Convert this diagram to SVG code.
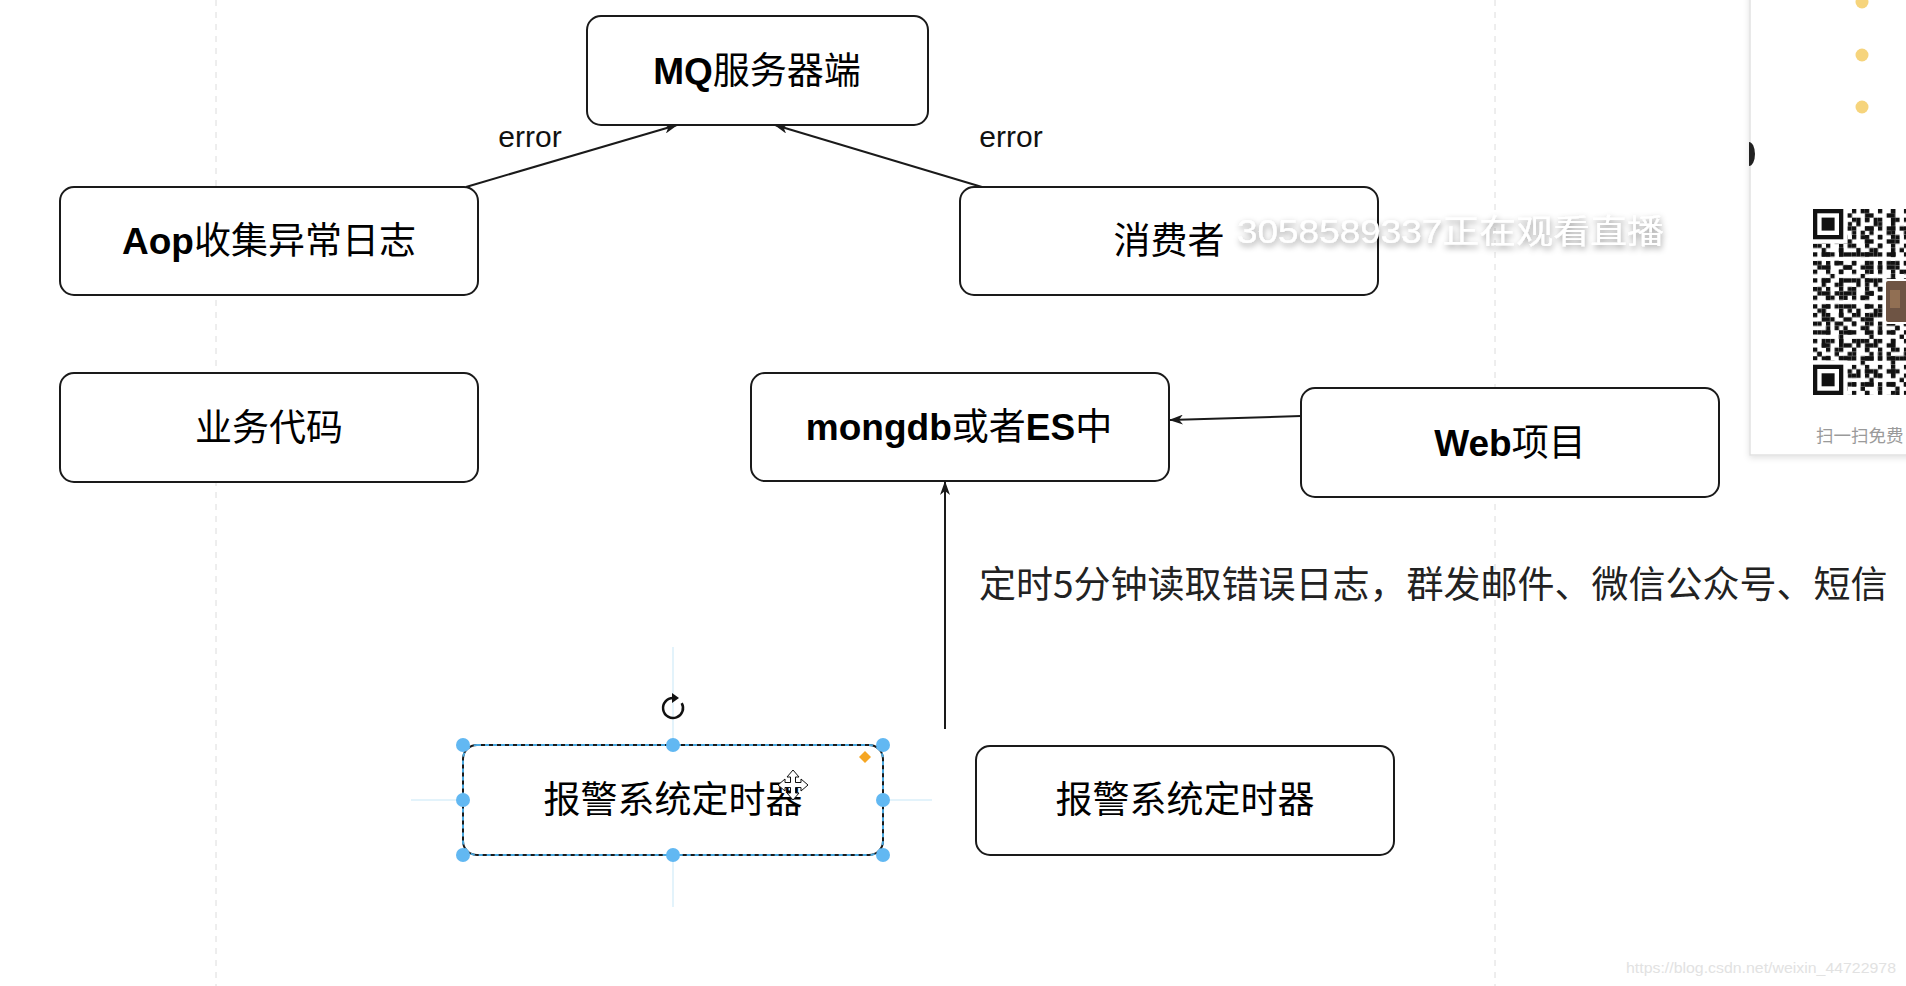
<svg xmlns="http://www.w3.org/2000/svg" width="1906" height="986" viewBox="0 0 1906 986">
  <style>
    .box { fill: #ffffff; stroke: #1a1a1a; stroke-width: 2; }
    .lbl { font-family: "Noto Sans CJK SC", sans-serif; font-size: 37px; fill: #000; text-anchor: middle; }
    .lat { font-family: "Liberation Sans", Arial, sans-serif; font-weight: bold; }
    .edge { fill: none; stroke: #1a1a1a; stroke-width: 2; }
    .elbl { font-family: "Liberation Sans", Arial, sans-serif; font-size: 30px; fill: #111; text-anchor: middle; }
    .grid { stroke: #dcdcdc; stroke-width: 1; stroke-dasharray: 6 6; }
    .handle { fill: #62b8f2; }
    .guide { stroke: #e3f3fb; stroke-width: 2; }
    .qr { fill: #111; }
  </style>
  <defs>
    <marker id="arr" viewBox="0 0 14 10" refX="13" refY="5" markerWidth="14" markerHeight="10" markerUnits="userSpaceOnUse" orient="auto">
      <path d="M0,0 L14,5 L0,10 L4,5 Z" fill="#1a1a1a"/>
    </marker>
    <filter id="halo" x="-10%" y="-40%" width="120%" height="180%">
      <feGaussianBlur in="SourceAlpha" stdDeviation="3" result="b"/>
      <feOffset dx="1" dy="3" in="b" result="o"/>
      <feFlood flood-color="#000" flood-opacity="0.4"/>
      <feComposite in2="o" operator="in" result="s"/>
      <feMerge><feMergeNode in="s"/><feMergeNode in="SourceGraphic"/></feMerge>
    </filter>
    <filter id="pshadow" x="-20%" y="-5%" width="140%" height="110%">
      <feDropShadow dx="0" dy="2" stdDeviation="3" flood-color="#000" flood-opacity="0.12"/>
    </filter>
    <pattern id="qa" patternUnits="userSpaceOnUse" x="1813" y="209" width="12.99" height="8.66">
      <rect x="0" y="0" width="4.33" height="4.33" class="qr"/>
    </pattern>
    <pattern id="qb" patternUnits="userSpaceOnUse" x="1813" y="209" width="21.65" height="12.99">
      <rect x="8.66" y="4.33" width="8.66" height="4.33" class="qr"/>
    </pattern>
    <pattern id="qc" patternUnits="userSpaceOnUse" x="1813" y="209" width="30.31" height="21.65">
      <rect x="4.33" y="12.99" width="4.33" height="4.33" class="qr"/>
      <rect x="17.32" y="0" width="4.33" height="4.33" class="qr"/>
      <rect x="21.65" y="8.66" width="4.33" height="4.33" class="qr"/>
      <rect x="25.98" y="17.32" width="4.33" height="4.33" class="qr"/>
    </pattern>
    <pattern id="qd" patternUnits="userSpaceOnUse" x="1813" y="209" width="17.32" height="30.31">
      <rect x="4.33" y="21.65" width="4.33" height="4.33" class="qr"/>
      <rect x="8.66" y="8.66" width="4.33" height="8.66" class="qr"/>
      <rect x="12.99" y="25.98" width="4.33" height="4.33" class="qr"/>
    </pattern>
  </defs>

  <rect x="0" y="0" width="1906" height="986" fill="#ffffff"/>

  <!-- background grid guides -->
  <g id="grid">
    <line class="grid" x1="216" y1="0" x2="216" y2="986"/>
    <line class="grid" x1="1495" y1="0" x2="1495" y2="986"/>
  </g>

  <!-- connectors -->
  <g id="connectors">
    <line class="edge" x1="466" y1="187" x2="677" y2="125" marker-end="url(#arr)"/>
    <line class="edge" x1="982" y1="187" x2="775" y2="125" marker-end="url(#arr)"/>
    <line class="edge" x1="1301" y1="416" x2="1170" y2="420" marker-end="url(#arr)"/>
    <line class="edge" x1="945" y1="729" x2="945" y2="482" marker-end="url(#arr)"/>
    <text class="elbl" x="530" y="147">error</text>
    <text class="elbl" x="1011" y="147">error</text>
    <text x="979" y="598" font-family="'Noto Sans CJK SC', sans-serif" font-size="37" fill="#222">定时5分钟读取错误日志，群发邮件、微信公众号、短信</text>
  </g>

  <g id="node-mq">
    <rect class="box" x="587" y="16" width="341" height="109" rx="14"/>
    <text class="lbl" x="757" y="84"><tspan class="lat">MQ</tspan>服务器端</text>
  </g>

  <g id="node-aop">
    <rect class="box" x="60" y="187" width="418" height="108" rx="14"/>
    <text class="lbl" x="269" y="254"><tspan class="lat">Aop</tspan>收集异常日志</text>
  </g>

  <g id="node-consumer">
    <rect class="box" x="960" y="187" width="418" height="108" rx="14"/>
    <text class="lbl" x="1169" y="254">消费者</text>
  </g>

  <g id="node-business">
    <rect class="box" x="60" y="373" width="418" height="109" rx="14"/>
    <text class="lbl" x="269" y="441">业务代码</text>
  </g>

  <g id="node-store">
    <rect class="box" x="751" y="373" width="418" height="108" rx="14"/>
    <text class="lbl" x="959" y="440"><tspan class="lat">mongdb</tspan>或者<tspan class="lat">ES</tspan>中</text>
  </g>

  <g id="node-web">
    <rect class="box" x="1301" y="388" width="418" height="109" rx="14"/>
    <text class="lbl" x="1510" y="456"><tspan class="lat">Web</tspan>项目</text>
  </g>

  <g id="node-timer-selected">
    <line class="guide" x1="673" y1="647" x2="673" y2="745"/>
    <line class="guide" x1="673" y1="855" x2="673" y2="907"/>
    <line class="guide" x1="411" y1="800" x2="463" y2="800"/>
    <line class="guide" x1="883" y1="800" x2="932" y2="800"/>
    <rect class="box" x="463" y="745" width="420" height="110" rx="14" stroke-width="1.5"/>
    <rect x="463" y="745" width="420" height="110" rx="14" fill="none" stroke="#4aa8e0" stroke-width="2" stroke-dasharray="4 4"/>
    <text class="lbl" x="673" y="813">报警系统定时器</text>
    <circle class="handle" cx="463" cy="745" r="7"/>
    <circle class="handle" cx="673" cy="745" r="7"/>
    <circle class="handle" cx="883" cy="745" r="7"/>
    <circle class="handle" cx="463" cy="800" r="7"/>
    <circle class="handle" cx="883" cy="800" r="7"/>
    <circle class="handle" cx="463" cy="855" r="7"/>
    <circle class="handle" cx="673" cy="855" r="7"/>
    <circle class="handle" cx="883" cy="855" r="7"/>
    <path d="M681.7,703 A10,10 0 1 1 673,698" fill="none" stroke="#111" stroke-width="2.5"/>
    <path d="M672,693 L679,698 L672,703 Z" fill="#111"/>
    <path d="M865,751 L871,757 L865,763 L859,757 Z" fill="#f5a623"/>
    <path d="M793,770 L799,777 L795.5,777 L795.5,782.5 L801,782.5 L801,779 L808,785 L801,791 L801,787.5 L795.5,787.5 L795.5,793 L799,793 L793,800 L787,793 L790.5,793 L790.5,787.5 L785,787.5 L785,791 L778,785 L785,779 L785,782.5 L790.5,782.5 L790.5,777 L787,777 Z" fill="#fff" stroke="#111" stroke-width="1"/>
  </g>

  <g id="node-timer">
    <rect class="box" x="976" y="746" width="418" height="109" rx="14"/>
    <text class="lbl" x="1185" y="813">报警系统定时器</text>
  </g>

  <!-- right-side overlay panel -->
  <g id="side-panel">
    <rect x="1750" y="-10" width="170" height="465" fill="#ffffff" stroke="#e2e2e2" stroke-width="1.5" filter="url(#pshadow)"/>
    <circle cx="1862" cy="2" r="6.5" fill="#f6d47c"/>
    <circle cx="1862" cy="55" r="6.5" fill="#f6d47c"/>
    <circle cx="1862" cy="107" r="6.5" fill="#f6d47c"/>
    <path d="M1749,142 A6,12 0 0 1 1749,166 Z" fill="#222"/>
    <rect x="1813" y="209" width="100" height="186" fill="url(#qa)"/>
    <rect x="1813" y="209" width="100" height="186" fill="url(#qb)"/>
    <rect x="1813" y="209" width="100" height="186" fill="url(#qc)"/>
    <rect x="1813" y="209" width="100" height="186" fill="url(#qd)"/>
    <rect x="1813" y="209" width="34.6" height="34.6" fill="#fff"/>
    <rect x="1813" y="209" width="30.3" height="30.3" class="qr"/>
    <rect x="1817.3" y="213.3" width="21.7" height="21.7" fill="#fff"/>
    <rect x="1821.6" y="217.6" width="13" height="13" class="qr"/>
    <rect x="1813" y="360.4" width="34.6" height="34.6" fill="#fff"/>
    <rect x="1813" y="364.7" width="30.3" height="30.3" class="qr"/>
    <rect x="1817.3" y="369" width="21.7" height="21.7" fill="#fff"/>
    <rect x="1821.6" y="373.3" width="13" height="13" class="qr"/>
    <rect x="1884" y="279" width="26" height="45" rx="3" fill="#fff"/>
    <rect x="1886" y="281" width="24" height="41" rx="2" fill="#6e5444"/>
    <rect x="1890" y="290" width="10" height="18" fill="#a07a5a" opacity="0.7"/>
    <text x="1816" y="442" font-family="'Noto Sans CJK SC', sans-serif" font-size="17.5" fill="#9a9a9a">扫一扫免费</text>
  </g>

  <!-- overlaid watermarks -->
  <g id="watermarks">
    <text x="1237" y="243" font-family="'Liberation Sans', 'Noto Sans CJK SC', sans-serif" font-size="33" fill="#ffffff" textLength="427" lengthAdjust="spacingAndGlyphs" filter="url(#halo)">3058589337正在观看直播</text>
    <text x="1626" y="973" font-family="'Liberation Sans', Arial, sans-serif" font-size="15" fill="#e2e2e2" textLength="270" lengthAdjust="spacingAndGlyphs">https://blog.csdn.net/weixin_44722978</text>
  </g>
</svg>
